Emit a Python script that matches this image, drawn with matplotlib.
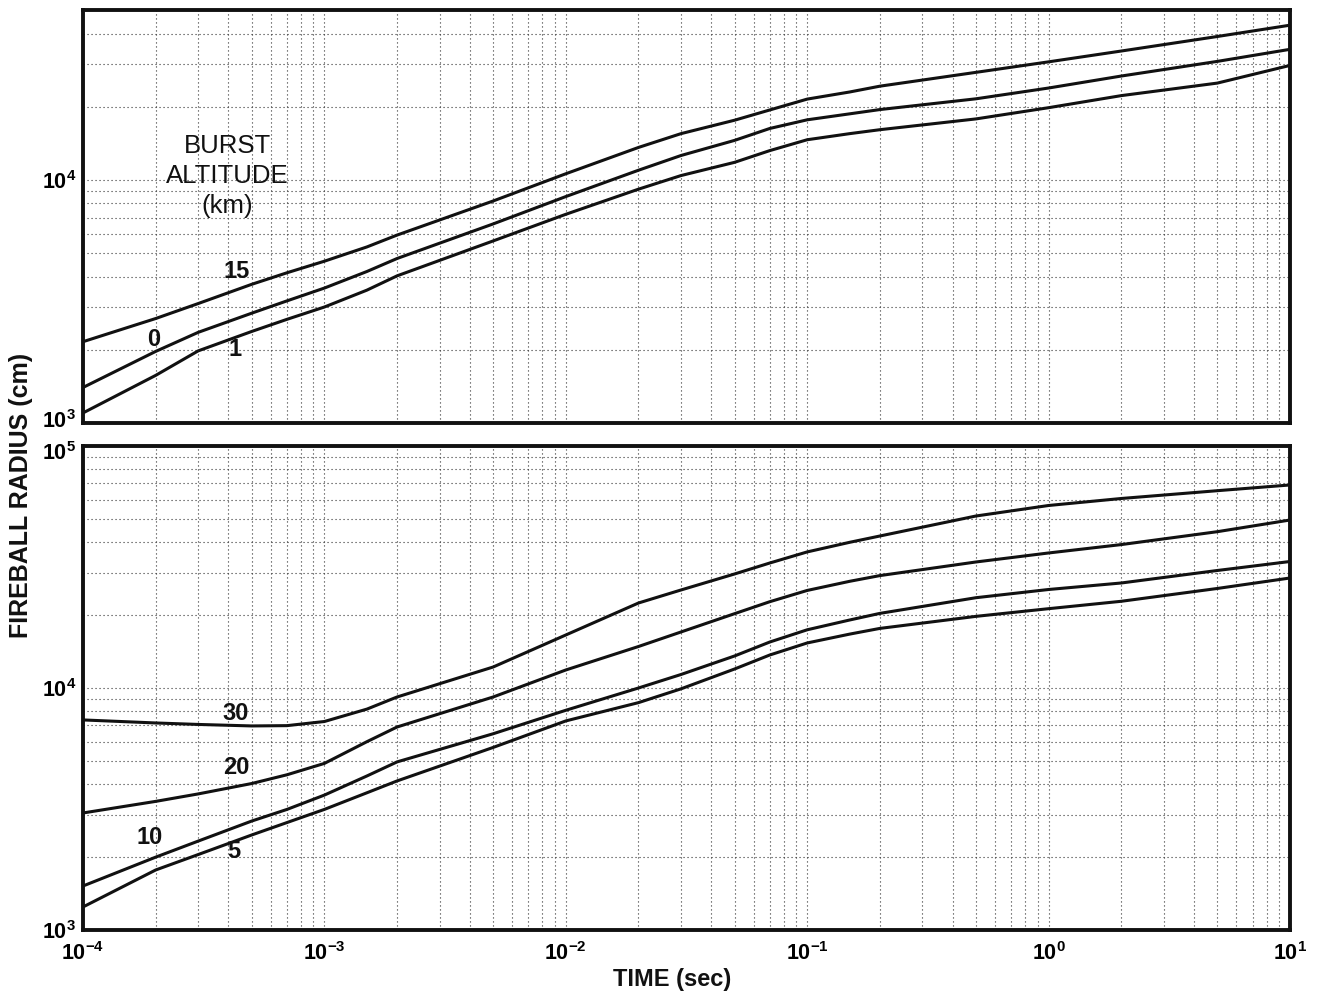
import matplotlib
matplotlib.use("Agg")
import matplotlib.pyplot as plt
from matplotlib.ticker import LogLocator, FixedLocator, FixedFormatter, NullFormatter
from matplotlib.transforms import ScaledTranslation

plt.rcParams["font.family"] = ["Liberation Sans", "DejaVu Sans"]
plt.rcParams["mathtext.fontset"] = "custom"
plt.rcParams["mathtext.rm"] = "Liberation Sans"
plt.rcParams["mathtext.bf"] = "Liberation Sans:bold"

# ---- data (time in s, fireball radius in cm) ----
times = [1e-4, 2e-4, 3e-4, 5e-4, 7e-4, 1e-3, 1.5e-3, 2e-3, 5e-3, 1e-2, 2e-2, 3e-2,
         5e-2, 7e-2, 1e-1, 1.5e-1, 2e-1, 5e-1, 1, 2, 5, 10]

# top panel: burst altitudes 0, 1, 15 km
r_15km = [2160, 2690, 3100, 3720, 4150, 4630, 5300, 5930, 8190, 10600, 13600, 15500,
          17600, 19400, 21500, 23000, 24300, 27700, 30600, 33900, 38900, 43300]
r_0km = [1400, 1970, 2360, 2830, 3180, 3590, 4200, 4750, 6590, 8540, 10960, 12600,
         14540, 16280, 17670, 18700, 19470, 21560, 23880, 26750, 30730, 34450]
r_1km = [1100, 1570, 1980, 2380, 2670, 3000, 3520, 4030, 5610, 7220, 9160, 10420,
         11810, 13200, 14630, 15500, 16090, 17820, 19820, 22220, 25020, 29580]

# bottom panel: burst altitudes 5, 10, 20, 30 km
r_30km = [7380, 7170, 7070, 6970, 6990, 7270, 8180, 9180, 12210, 16560, 22450, 25410,
          29590, 32850, 36500, 40000, 42470, 51370, 56780, 60690, 65360, 69020]
r_20km = [3045, 3400, 3650, 4030, 4380, 4880, 6000, 6900, 9180, 11870, 14840, 17040,
          20280, 22730, 25300, 27600, 29140, 33170, 36140, 39140, 44250, 49450]
r_10km = [1520, 2000, 2330, 2820, 3150, 3610, 4330, 4950, 6470, 8090, 10000, 11370,
          13560, 15490, 17400, 19100, 20340, 23610, 25530, 27160, 30590, 33320]
r_5km = [1245, 1770, 2050, 2470, 2780, 3150, 3690, 4130, 5680, 7310, 8700, 9920,
         11980, 13690, 15350, 16700, 17630, 19770, 21270, 22820, 25780, 28480]

x_ticks = [1e-4, 1e-3, 1e-2, 1e-1, 1e0, 1e1]
x_ticklabels = [r"$\mathbf{10^{-4}}$", r"$\mathbf{10^{-3}}$", r"$\mathbf{10^{-2}}$",
                r"$\mathbf{10^{-1}}$", r"$\mathbf{10^{0}}$", r"$\mathbf{10^{1}}$"]
y_ticks_top = [1e3, 1e4]
y_ticklabels_top = [r"$\mathbf{10^{3}}$", r"$\mathbf{10^{4}}$"]
y_ticks_bot = [1e3, 1e4, 1e5]
y_ticklabels_bot = [r"$\mathbf{10^{3}}$", r"$\mathbf{10^{4}}$", r"$\mathbf{10^{5}}$"]

W, H = 1320, 997
fig = plt.figure(figsize=(W / 100, H / 100), dpi=100)
fig.patch.set_facecolor("white")

def px_rect(x0, y0, x1, y1):
    return [x0 / W, 1 - y1 / H, (x1 - x0) / W, (y1 - y0) / H]

ax1 = fig.add_axes(px_rect(83, 10, 1290, 423))
ax2 = fig.add_axes(px_rect(83, 446, 1290, 930))

LW = 2.2
grid_style = dict(color="#333333", linewidth=0.8, linestyle=(0, (1, 2.6)))

for ax, ylim, yt, ytl in [(ax1, (1e3, 5e4), y_ticks_top, y_ticklabels_top),
                          (ax2, (1e3, 1e5), y_ticks_bot, y_ticklabels_bot)]:
    ax.set_xscale("log")
    ax.set_yscale("log")
    ax.set_xlim(1e-4, 1e1)
    ax.set_ylim(*ylim)
    ax.xaxis.set_minor_locator(LogLocator(base=10, subs=range(2, 10)))
    ax.yaxis.set_minor_locator(LogLocator(base=10, subs=range(2, 10)))
    ax.xaxis.set_minor_formatter(NullFormatter())
    ax.yaxis.set_minor_formatter(NullFormatter())
    ax.yaxis.set_major_locator(FixedLocator(yt))
    ax.yaxis.set_major_formatter(FixedFormatter(ytl))
    ax.xaxis.set_major_locator(FixedLocator(x_ticks))
    ax.grid(True, which="both", **grid_style)
    ax.set_axisbelow(True)
    ax.tick_params(which="both", length=0)
    ax.tick_params(axis="y", labelsize=15.5, pad=5)
    ax.tick_params(axis="x", labelsize=15.5, pad=9)
    for s in ax.spines.values():
        s.set_linewidth(2.8)
        s.set_color("#111111")

ax1.xaxis.set_major_formatter(NullFormatter())
ax2.xaxis.set_major_formatter(FixedFormatter(x_ticklabels))

# nudge the two tick labels that sit next to the gap between the panels
lab_top = ax1.yaxis.get_major_ticks()[0].label1
lab_top.set_transform(lab_top.get_transform() +
                      ScaledTranslation(0, 4 / 100, fig.dpi_scale_trans))
lab_bot = ax2.yaxis.get_major_ticks()[2].label1
lab_bot.set_transform(lab_bot.get_transform() +
                      ScaledTranslation(0, -5 / 100, fig.dpi_scale_trans))

for r in (r_15km, r_0km, r_1km):
    ax1.plot(times, r, color="#111111", lw=LW, solid_joinstyle="round")
for r in (r_30km, r_20km, r_10km, r_5km):
    ax2.plot(times, r, color="#111111", lw=LW, solid_joinstyle="round")

def px_text(x, y, s, **kw):
    fig.text(x / W, 1 - y / H, s, ha="center", va="center", **kw)

# curve labels
num_kw = dict(fontsize=17, fontweight="bold", color="#111111")
px_text(237, 272, "15", **num_kw)
px_text(154, 340, "0", **num_kw)
px_text(235, 350, "1", **num_kw)
px_text(236, 713, "30", **num_kw)
px_text(236, 767, "20", **num_kw)
px_text(150, 837, "10", **num_kw)
px_text(234, 852, "5", **num_kw)

px_text(227, 176, "BURST\nALTITUDE\n(km)", fontsize=18.5, color="#111111",
        linespacing=1.3)

# axis titles
px_text(21, 495, "FIREBALL RADIUS (cm)", fontsize=18, fontweight="bold",
        rotation=90, color="#111111")
px_text(672, 979, "TIME (sec)", fontsize=17, fontweight="bold", color="#111111")

fig.savefig("out.png", dpi=100, facecolor="white")
